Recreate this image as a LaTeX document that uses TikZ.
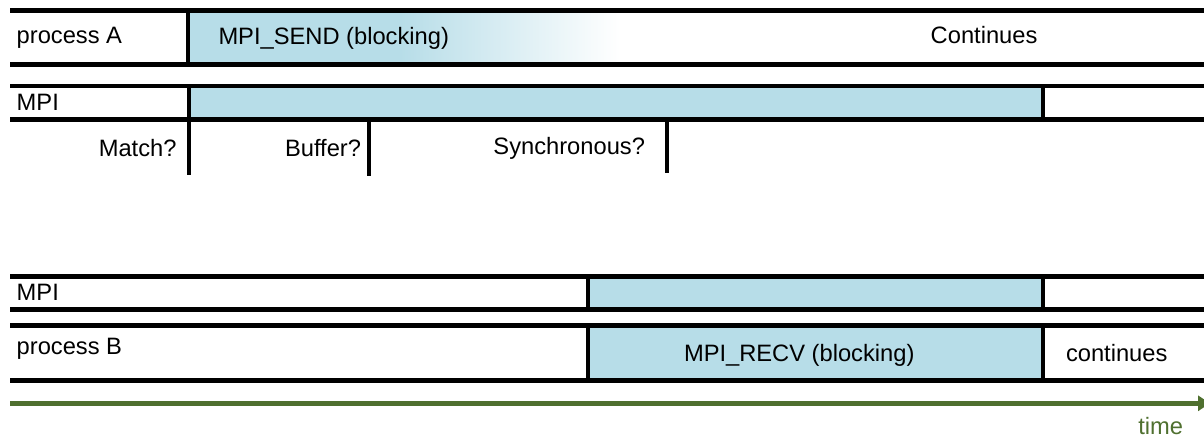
\documentclass[tikz,border=0pt]{standalone}
\usepackage{fontspec}
\setmainfont{Liberation Sans}
\usetikzlibrary{arrows.meta}
\definecolor{mpiblue}{RGB}{183,221,232}
\definecolor{timegreen}{RGB}{79,112,47}
\tikzset{
  bar/.style={line width=4.5pt, black},
  divider/.style={line width=3.7pt, black},
  lbl/.style={inner sep=0pt, outer sep=0pt, font=\fontsize{23.7}{28}\selectfont},
  timearrow/.style={line width=5.3pt, timegreen, -{Triangle[length=12pt,width=15pt]}}
}
\begin{document}
\begin{tikzpicture}[x=1pt,y=-1pt]
\clip (0,0) rectangle (1204,438);
\fill[white] (0,0) rectangle (1204,438);
% fills
\fill[mpiblue] (189,12.7) rectangle (400,62.7);
\shade[left color=mpiblue, right color=white] (399.5,12.7) rectangle (620,62.7);
\fill[mpiblue] (190,88.3) rectangle (1042,117.3);
\fill[mpiblue] (590,278.3) rectangle (1042,307.3);
\fill[mpiblue] (590,327.7) rectangle (1042,378.3);
% horizontal bars
\draw[bar] (10,10.5) -- (1210,10.5);
\draw[bar] (10,64.7) -- (1210,64.7);
\draw[bar] (10,86.2) -- (1210,86.2);
\draw[bar] (10,119.5) -- (1210,119.5);
\draw[bar] (10,276.3) -- (1210,276.3);
\draw[bar] (10,309.3) -- (1210,309.3);
\draw[bar] (10,325.5) -- (1210,325.5);
\draw[bar] (10,380.5) -- (1210,380.5);
% dividers and ticks
\draw[divider] (187.7,10.5) -- (187.7,64.7);
\draw[divider] (188.7,86.2) -- (188.7,175);
\draw[divider] (369,119.5) -- (369,176);
\draw[divider] (667,119.5) -- (667,173.3);
\draw[divider] (1043.3,86.2) -- (1043.3,119.5);
\draw[divider] (588.3,276.3) -- (588.3,309.3);
\draw[divider] (1043.3,276.3) -- (1043.3,309.3);
\draw[divider] (588.3,325.5) -- (588.3,380.5);
\draw[divider] (1043.3,325.5) -- (1043.3,380.5);
% labels
\node[lbl, anchor=base west] (procA) at (16.7,43.5) {process A};
\node[lbl, anchor=base west] (send) at (218.5,44.5) {MPI\_SEND (blocking)};
\node[lbl, anchor=base west] (cont) at (930.7,43.5) {Continues};
\node[lbl, anchor=base west] (mpiA) at (16.7,111) {MPI};
\node[lbl, anchor=base east] (match) at (176.5,156.7) {Match?};
\node[lbl, anchor=base east] (buffer) at (361,156.7) {Buffer?};
\node[lbl, anchor=base east] (sync) at (645,154.5) {Synchronous?};
\node[lbl, anchor=base west] (mpiB) at (16.7,300) {MPI};
\node[lbl, anchor=base west] (procB) at (16.7,354.3) {process B};
\node[lbl, anchor=base west] (recv) at (684,361.7) {MPI\_RECV (blocking)};
\node[lbl, anchor=base west] (contB) at (1066,361.7) {continues};
\node[lbl, anchor=base west, text=timegreen] (time) at (1138.3,434.5) {time};
% time arrow
\coordinate (tstart) at (10,403.3);
\coordinate (tend) at (1210,403.3);
\draw[timearrow] (tstart) -- (tend);
\end{tikzpicture}
\end{document}
